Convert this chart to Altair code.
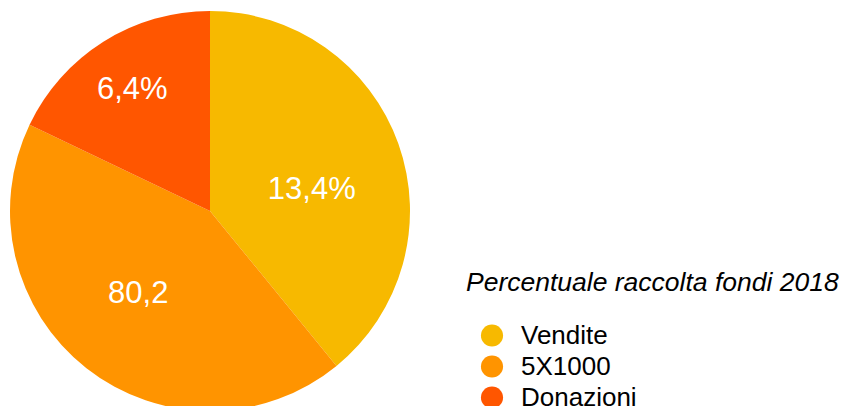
import altair as alt
import pandas as pd

categories = ["Vendite", "5X1000", "Donazioni"]
values = [39.1, 43.0, 17.9]
labels = ["13,4%", "80,2", "6,4%"]
colors = ["#F7B900", "#FF9400", "#FF5600"]

df = pd.DataFrame({"cat": categories, "val": values, "lab": labels, "ord": [0, 1, 2]})

cx, cy, R = 210, 211, 200

base = alt.Chart(df).encode(
    theta=alt.Theta("val:Q", stack=True),
    order=alt.Order("ord:Q"),
    x=alt.value(cx),
    y=alt.value(cy),
)

pie = base.mark_arc(outerRadius=R, stroke=None).encode(
    color=alt.Color(
        "cat:N",
        scale=alt.Scale(domain=categories, range=colors),
        sort=categories,
        legend=alt.Legend(
            title="Percentuale raccolta fondi 2018",
            orient="none",
            legendX=466,
            legendY=270,
            titleFont="Liberation Sans",
            titleFontStyle="italic",
            titleFontWeight="normal",
            titleFontSize=26.5,
            titleColor="#000000",
            titleLimit=0,
            titlePadding=26,
            labelFont="Liberation Sans",
            labelFontSize=26,
            labelColor="#000000",
            labelLimit=0,
            labelOffset=16,
            symbolOffset=13,
            symbolType="circle",
            symbolSize=490,
            symbolStrokeWidth=0,
            rowPadding=5,
        ),
    )
)

label_style = {
    "Vendite": dict(radius=104, thetaOffset=0.137),
    "5X1000": dict(radius=110, thetaOffset=0.045),
    "Donazioni": dict(radius=144, thetaOffset=-0.008),
}

layers = [pie]
for c in categories:
    st = label_style[c]
    layers.append(
        base.mark_text(
            font="Liberation Sans",
            fontSize=31,
            color="#FFFFFF",
            align="center",
            baseline="middle",
            radius=st["radius"],
            thetaOffset=st["thetaOffset"],
        )
        .encode(text="lab:N", opacity=alt.condition(alt.datum.cat == c, alt.value(1), alt.value(0)))
    )

chart = (
    alt.layer(*layers)
    .properties(width=841, height=406, autosize=alt.AutoSizeParams(type="none"), padding=0)
    .configure_view(stroke=None)
)

chart.save("out.html", embed_options={"renderer": "svg", "actions": False})
